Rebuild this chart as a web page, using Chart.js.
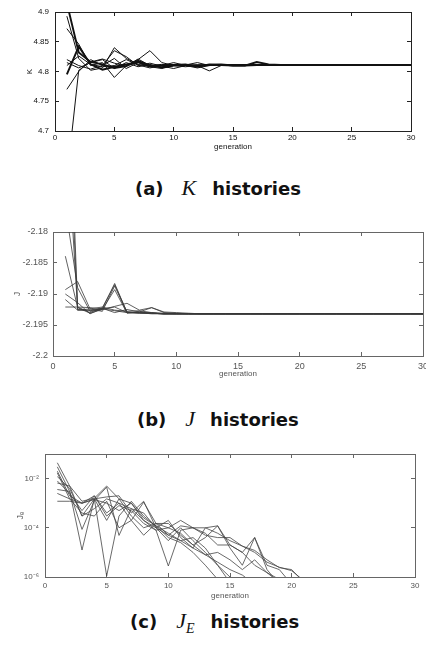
<!DOCTYPE html>
<html>
<head>
<meta charset="utf-8">
<script src="https://cdn.jsdelivr.net/npm/chart.js@4.4.1/dist/chart.umd.min.js"></script>
<style>
  body { margin: 0; background: #fff; width: 426px; height: 653px; overflow: hidden; position: relative; }
  canvas { position: absolute; left: 0; }
  .cap { position: absolute; font-family: "DejaVu Sans"; font-weight: bold; font-size: 18px; line-height: 20px; color: #111; white-space: nowrap; }
  .cap i { font-family: "Liberation Serif"; font-weight: normal; font-size: 22px; }
  .cap sub { font-size: 14px; line-height: 0; vertical-align: -5px; }
</style>
</head>
<body>
<canvas id="kChart" width="426" height="160" style="top:0"></canvas>
<div class="cap" style="left:135px;top:178px">(a)<i style="margin-left:18px">K</i><span style="margin-left:16px">histories</span></div>
<canvas id="jChart" width="426" height="175" style="top:205px"></canvas>
<div class="cap" style="left:137px;top:409px">(b)<i style="margin-left:19px">J</i><span style="margin-left:15px">histories</span></div>
<canvas id="jeChart" width="426" height="165" style="top:440px"></canvas>
<div class="cap" style="left:130px;top:611px">(c)<i style="margin-left:19px">J<sub>E</sub></i><span style="margin-left:16px">histories</span></div>

<script>
const generations = [1, 2, 3, 4, 5, 6, 7, 8, 9, 10, 11, 12, 13, 14, 15, 16, 17, 18, 19, 20, 21, 22, 23, 24, 25, 26, 27, 28, 29, 30]
const xTickStep = 5

// (a) K histories
const kRun1 = [4.795, 4.842, 4.812, 4.803, 4.808, 4.812, 4.816, 4.809, 4.810, 4.811, 4.812, 4.808, 4.812, 4.811, 4.810, 4.810, 4.816, 4.812, 4.811, 4.811, 4.811, 4.811, 4.811, 4.811, 4.811, 4.811, 4.811, 4.811, 4.811, 4.811]
const kRun2 = [4.915, 4.832, 4.816, 4.812, 4.806, 4.809, 4.818, 4.810, 4.807, 4.810, 4.811, 4.809, 4.811, 4.812, 4.810, 4.810, 4.811, 4.811, 4.811, 4.811, 4.811, 4.811, 4.811, 4.811, 4.811, 4.811, 4.811, 4.811, 4.811, 4.811]
const kRun3 = [4.893, 4.822, 4.802, 4.806, 4.840, 4.822, 4.812, 4.808, 4.805, 4.810, 4.811, 4.815, 4.810, 4.811, 4.810, 4.811, 4.811, 4.811, 4.811, 4.811, 4.811, 4.811, 4.811, 4.811, 4.811, 4.811, 4.811, 4.811, 4.811, 4.811]
const kRun4 = [4.872, 4.846, 4.810, 4.815, 4.790, 4.810, 4.820, 4.835, 4.815, 4.810, 4.808, 4.810, 4.801, 4.810, 4.811, 4.810, 4.811, 4.811, 4.811, 4.811, 4.811, 4.811, 4.811, 4.811, 4.811, 4.811, 4.811, 4.811, 4.811, 4.811]
const kRun5 = [4.770, 4.800, 4.820, 4.810, 4.835, 4.825, 4.810, 4.814, 4.809, 4.805, 4.810, 4.811, 4.810, 4.811, 4.811, 4.811, 4.811, 4.811, 4.811, 4.811, 4.811, 4.811, 4.811, 4.811, 4.811, 4.811, 4.811, 4.811, 4.811, 4.811]
const kRun6 = [4.620, 4.802, 4.816, 4.821, 4.814, 4.809, 4.821, 4.810, 4.812, 4.810, 4.810, 4.811, 4.811, 4.811, 4.811, 4.811, 4.811, 4.811, 4.811, 4.811, 4.811, 4.811, 4.811, 4.811, 4.811, 4.811, 4.811, 4.811, 4.811, 4.811]
const kRun7 = [4.820, 4.810, 4.804, 4.810, 4.822, 4.805, 4.815, 4.808, 4.810, 4.815, 4.810, 4.806, 4.810, 4.811, 4.811, 4.811, 4.811, 4.811, 4.811, 4.811, 4.811, 4.811, 4.811, 4.811, 4.811, 4.811, 4.811, 4.811, 4.811, 4.811]
const kRun8 = [4.815, 4.806, 4.815, 4.820, 4.805, 4.815, 4.808, 4.812, 4.806, 4.810, 4.811, 4.810, 4.811, 4.811, 4.811, 4.811, 4.811, 4.811, 4.811, 4.811, 4.811, 4.811, 4.811, 4.811, 4.811, 4.811, 4.811, 4.811, 4.811, 4.811]
const kRun9 = [4.810, 4.826, 4.812, 4.808, 4.810, 4.820, 4.811, 4.806, 4.810, 4.812, 4.810, 4.811, 4.811, 4.811, 4.811, 4.811, 4.811, 4.811, 4.811, 4.811, 4.811, 4.811, 4.811, 4.811, 4.811, 4.811, 4.811, 4.811, 4.811, 4.811]

// (b) J histories
const jRun1 = [-2.150, -2.1925, -2.1926, -2.1924, -2.1883, -2.1930, -2.1930, -2.1931, -2.1932, -2.1932, -2.1932, -2.1932, -2.1932, -2.1932, -2.1932, -2.1932, -2.1932, -2.1932, -2.1932, -2.1932, -2.1932, -2.1932, -2.1932, -2.1932, -2.1932, -2.1932, -2.1932, -2.1932, -2.1932, -2.1932]
const jRun2 = [-2.140, -2.1921, -2.1930, -2.1922, -2.1885, -2.1929, -2.1931, -2.1931, -2.1932, -2.1932, -2.1932, -2.1932, -2.1932, -2.1932, -2.1932, -2.1932, -2.1932, -2.1932, -2.1932, -2.1932, -2.1932, -2.1932, -2.1932, -2.1932, -2.1932, -2.1932, -2.1932, -2.1932, -2.1932, -2.1932]
const jRun3 = [-2.160, -2.1926, -2.1924, -2.1928, -2.1887, -2.1930, -2.1930, -2.1932, -2.1932, -2.1932, -2.1932, -2.1932, -2.1932, -2.1932, -2.1932, -2.1932, -2.1932, -2.1932, -2.1932, -2.1932, -2.1932, -2.1932, -2.1932, -2.1932, -2.1932, -2.1932, -2.1932, -2.1932, -2.1932, -2.1932]
const jRun4 = [-2.176, -2.1890, -2.1928, -2.1925, -2.1893, -2.1931, -2.1929, -2.1930, -2.1932, -2.1932, -2.1932, -2.1932, -2.1932, -2.1932, -2.1932, -2.1932, -2.1932, -2.1932, -2.1932, -2.1932, -2.1932, -2.1932, -2.1932, -2.1932, -2.1932, -2.1932, -2.1932, -2.1932, -2.1932, -2.1932]
const jRun5 = [-2.1839, -2.1922, -2.1931, -2.1925, -2.1920, -2.1915, -2.1926, -2.1922, -2.1930, -2.1931, -2.1932, -2.1932, -2.1932, -2.1932, -2.1932, -2.1932, -2.1932, -2.1932, -2.1932, -2.1932, -2.1932, -2.1932, -2.1932, -2.1932, -2.1932, -2.1932, -2.1932, -2.1932, -2.1932, -2.1932]
const jRun6 = [-2.1893, -2.1880, -2.1924, -2.1921, -2.1926, -2.1928, -2.1927, -2.1930, -2.1931, -2.1932, -2.1932, -2.1932, -2.1932, -2.1932, -2.1932, -2.1932, -2.1932, -2.1932, -2.1932, -2.1932, -2.1932, -2.1932, -2.1932, -2.1932, -2.1932, -2.1932, -2.1932, -2.1932, -2.1932, -2.1932]
const jRun7 = [-2.1909, -2.1926, -2.1927, -2.1924, -2.1921, -2.1930, -2.1929, -2.1922, -2.1929, -2.1930, -2.1931, -2.1932, -2.1932, -2.1932, -2.1932, -2.1932, -2.1932, -2.1932, -2.1932, -2.1932, -2.1932, -2.1932, -2.1932, -2.1932, -2.1932, -2.1932, -2.1932, -2.1932, -2.1932, -2.1932]
const jRun8 = [-2.1921, -2.1921, -2.1922, -2.1924, -2.1927, -2.1930, -2.1931, -2.1931, -2.1932, -2.1932, -2.1932, -2.1932, -2.1932, -2.1932, -2.1932, -2.1932, -2.1932, -2.1932, -2.1932, -2.1932, -2.1932, -2.1932, -2.1932, -2.1932, -2.1932, -2.1932, -2.1932, -2.1932, -2.1932, -2.1932]
const jRun9 = [-2.1900, -2.1914, -2.1932, -2.1923, -2.1930, -2.1925, -2.1929, -2.1931, -2.1932, -2.1932, -2.1932, -2.1932, -2.1932, -2.1932, -2.1932, -2.1932, -2.1932, -2.1932, -2.1932, -2.1932, -2.1932, -2.1932, -2.1932, -2.1932, -2.1932, -2.1932, -2.1932, -2.1932, -2.1932, -2.1932]

// (c) J_E histories (runs stop once they drop below the axis)
const jeRun1 = [4.4e-2, 5.0e-3, 1.2e-3, 1.6e-3, 5.0e-3, 1.5e-3, 1.0e-3, 2.5e-4, 1.2e-4, 6.0e-5, 3.0e-5, 1.5e-5, 8.0e-6, 4.0e-6, 2.0e-6, 1.2e-6, 5.0e-7]
const jeRun2 = [3.0e-2, 3.0e-3, 8.6e-5, 1.3e-3, 4.5e-3, 4.9e-5, 6.0e-4, 2.0e-4, 1.0e-4, 3.0e-5, 1.0e-4, 3.0e-5, 1.0e-5, 3.0e-6, 6.0e-7]
const jeRun3 = [1.7e-2, 1.5e-3, 1.0e-3, 1.5e-3, 1.1e-6, 3.0e-4, 1.2e-3, 3.0e-4, 1.2e-4, 4.0e-5, 2.5e-5, 1.0e-5, 3.0e-6, 8.0e-7]
const jeRun4 = [6.6e-3, 5.0e-3, 3.0e-4, 1.5e-3, 1.8e-3, 2.0e-3, 4.0e-4, 1.2e-3, 1.0e-4, 2.0e-4, 4.0e-5, 1.5e-5, 1.0e-4, 1.2e-4, 2.0e-5, 1.0e-5, 4.0e-5, 3.0e-6, 2.0e-6, 5.0e-7]
const jeRun5 = [3.6e-3, 3.0e-3, 1.25e-5, 1.5e-3, 2.0e-4, 1.5e-3, 3.0e-4, 1.0e-4, 1.5e-4, 5.0e-5, 3.0e-5, 4.0e-5, 1.5e-5, 3.0e-6, 1.0e-6, 4.0e-7]
const jeRun6 = [1.2e-3, 1.2e-3, 1.0e-3, 2.0e-3, 3.0e-4, 8.0e-4, 5.0e-4, 1.5e-4, 8.0e-5, 1.0e-4, 6.0e-5, 2.0e-5, 8.0e-6, 1.0e-5, 5.0e-6, 2.0e-6, 5.0e-6, 1.5e-6, 8.0e-7]
const jeRun7 = [2.0e-2, 2.0e-3, 1.0e-3, 1.4e-3, 1.0e-3, 5.0e-4, 1.0e-3, 2.0e-4, 8.0e-5, 2.8e-6, 8.0e-5, 1.0e-4, 1.0e-4, 6.0e-5, 3.0e-5, 1.8e-5, 1.2e-5, 5.0e-6, 2.4e-6, 2.0e-6, 6.0e-7]
const jeRun8 = [1.2e-2, 4.0e-3, 3.0e-4, 6.0e-4, 1.5e-3, 1.0e-3, 2.0e-4, 5.0e-5, 1.5e-4, 1.5e-4, 5.0e-5, 2.0e-5, 4.0e-5, 1.2e-4, 1.5e-5, 3.0e-6, 4.0e-5, 2.0e-6, 5.0e-7]
const jeRun9 = [2.5e-3, 1.5e-3, 4.0e-4, 3.0e-4, 1.2e-3, 1.0e-4, 2.0e-4, 1.1e-3, 1.5e-4, 1.0e-4, 2.0e-4, 1.0e-4, 6.0e-5, 2.0e-5, 2.0e-5, 1.0e-5, 3.0e-6, 1.5e-6, 6.0e-7]
const jeRun10 = [8.0e-3, 2.5e-3, 5.0e-4, 2.0e-3, 4.0e-4, 1.0e-3, 6.0e-4, 4.0e-4, 1.0e-4, 5.0e-5, 1.2e-4, 1.0e-4, 5.0e-5, 4.0e-5, 4.0e-5, 1.8e-5, 1.0e-5, 4.0e-6, 2.5e-6, 1.8e-6, 7.0e-7]
const jeTickValues = [1e-6, 1e-4, 1e-2]
const jeTickLabels = ['10\u207B\u2076', '10\u207B\u2074', '10\u207B\u00B2']

const FONT = 'Liberation Sans'

function toPoints(values) {
  return values.map((v, i) => ({ x: generations[i], y: v }))
}

// pin an axis to a fixed thickness so the plot box lands where the scan has it
function fixSize(size) {
  return function(scale) {
    if (scale.isHorizontal()) scale.height = size
    else scale.width = size
    scale.paddingLeft = 0
    scale.paddingRight = 0
    scale.paddingTop = 0
    scale.paddingBottom = 0
  }
}

function drawHistories(canvasId, runs, o) {
  const ctx = document.getElementById(canvasId).getContext('2d')
  const datasets = runs.map((run, i) => ({
    data: toPoints(run),
    borderColor: o.lineColor,
    borderWidth: (o.thick && o.thick.includes(i)) ? 1.9 : o.lineWidth,
    pointRadius: 0,
    tension: 0,
    fill: false,
    clip: 0
  }))

  const tickFont = { family: FONT, size: o.tickSize }
  const grid = { drawOnChartArea: false, drawTicks: true, tickLength: -4, color: o.axisColor, lineWidth: 1 }
  const border = { display: true, color: o.axisColor, width: 1 }
  const yBase = {
    type: o.yType,
    min: o.yMin,
    max: o.yMax,
    afterBuildTicks: o.yTicks ? (s) => { s.ticks = o.yTicks.map(v => ({ value: v })) } : undefined,
    ticks: { stepSize: o.yStep, font: tickFont, color: o.textColor, padding: o.yPad, callback: o.yFormat }
  }

  return new Chart(ctx, {
    type: 'line',
    data: { datasets },
    options: {
      responsive: false,
      animation: false,
      events: [],
      layout: { autoPadding: false, padding: o.padding },
      plugins: { legend: { display: false }, tooltip: { enabled: false } },
      scales: {
        x: {
          type: 'linear', position: 'bottom', min: 0, max: 30,
          ticks: { stepSize: xTickStep, font: tickFont, color: o.textColor, padding: o.xPad, maxRotation: 0 },
          grid, border,
          title: { display: true, text: 'generation', color: o.textColor, font: { family: FONT, size: 8 }, padding: { top: 0, bottom: o.xTitlePad } },
          afterFit: fixSize(o.xHeight)
        },
        xTop: {
          type: 'linear', position: 'top', min: 0, max: 30,
          ticks: { stepSize: xTickStep, display: false },
          grid, border,
          afterFit: fixSize(0)
        },
        y: Object.assign({}, yBase, {
          position: 'left',
          grid, border,
          title: { display: true, text: o.yTitle, color: o.textColor, font: { family: FONT, size: o.yTitleSize }, padding: { top: o.yTitlePad, bottom: 0 } },
          afterFit: fixSize(o.yWidth)
        }),
        yRight: Object.assign({}, yBase, {
          position: 'right',
          ticks: Object.assign({}, yBase.ticks, { display: false }),
          grid, border,
          afterFit: fixSize(0)
        })
      }
    }
  })
}

const trimNum = (v) => String(parseFloat(Number(v).toFixed(4)))

drawHistories('kChart', [kRun1, kRun2, kRun3, kRun4, kRun5, kRun6, kRun7, kRun8, kRun9], {
  lineColor: '#111', lineWidth: 1, thick: [0, 1],
  axisColor: '#222', textColor: '#111', tickSize: 8,
  yType: 'linear', yMin: 4.7, yMax: 4.9, yStep: 0.05, yFormat: trimNum,
  yTitle: 'K', yTitleSize: 8, yTitlePad: 25,
  padding: { top: 12, right: 15, bottom: 0, left: 0 },
  xHeight: 29, yWidth: 55, xPad: 6, yPad: 10, xTitlePad: 8
})

drawHistories('jChart', [jRun1, jRun2, jRun3, jRun4, jRun5, jRun6, jRun7, jRun8, jRun9], {
  lineColor: '#3a3a3a', lineWidth: 0.8,
  axisColor: '#666', textColor: '#555', tickSize: 9,
  yType: 'linear', yMin: -2.2, yMax: -2.18, yStep: 0.005, yFormat: trimNum,
  yTitle: 'J', yTitleSize: 9, yTitlePad: 12,
  padding: { top: 27, right: 3, bottom: 0, left: 0 },
  xHeight: 24, yWidth: 53, xPad: 9, yPad: 9, xTitlePad: 1
})

drawHistories('jeChart', [jeRun1, jeRun2, jeRun3, jeRun4, jeRun5, jeRun6, jeRun7, jeRun8, jeRun9, jeRun10], {
  lineColor: '#444', lineWidth: 0.8,
  axisColor: '#666', textColor: '#555', tickSize: 8,
  yType: 'logarithmic', yMin: 1e-6, yMax: 1e-1, yTicks: jeTickValues,
  yFormat: (v) => jeTickLabels[jeTickValues.findIndex(t => Math.abs(Math.log10(t) - Math.log10(v)) < 1e-6)] || '',
  yTitle: 'J\u2091', yTitleSize: 9, yTitlePad: 15,
  padding: { top: 14, right: 11, bottom: 0, left: 0 },
  xHeight: 28, yWidth: 45, xPad: 8, yPad: 10, xTitlePad: 4
})
</script>
</body>
</html>
